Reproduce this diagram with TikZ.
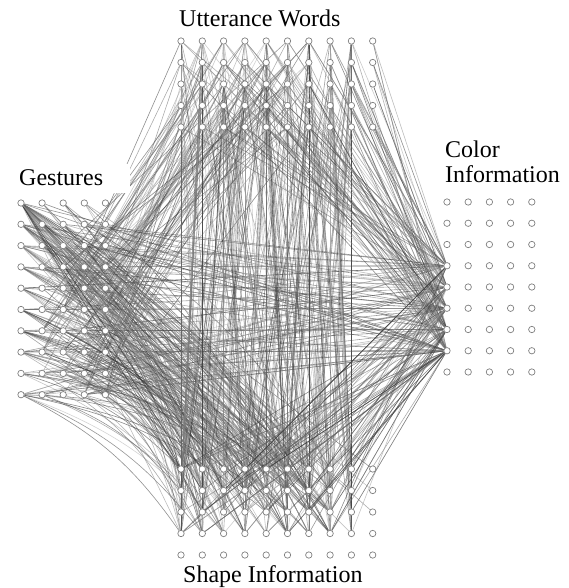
\documentclass[tikz,border=0pt]{standalone}
\usepackage{fontspec}
\setmainfont{Liberation Serif}
\pgfdeclarelayer{edges}
\pgfsetlayers{edges,main}
\tikzset{
  unit/.style={circle, draw=black!50, fill=white, line width=0.7pt,
               minimum size=6.4pt, inner sep=0pt},
  link/.style={line width=0.6pt, draw opacity=0.55},
  lbl/.style={font=\fontsize{24}{25}\selectfont, inner sep=0pt},
}
% one straight connection with a random grey tone
\newcommand{\drawwire}[2]{%
  \pgfmathrandominteger{\gtone}{30}{85}%
  \draw[link, draw=black!\gtone] (#1) -- (#2);}
% one slightly bowed connection with a random grey tone
\newcommand{\drawbow}[2]{%
  \pgfmathrandominteger{\gtone}{30}{85}%
  \draw[link, draw=black!\gtone] (#1) to[bend left=14] (#2);}
\begin{document}
\begin{tikzpicture}[x=1pt, y=-1pt]
\useasboundingbox (0,0) rectangle (568,588);
\pgfmathsetseed{4711}

% ---- unit grids ----
\foreach \i in {0,...,9}{\foreach \j in {0,...,4}{
  \node[unit] (u-\i-\j) at ({181+21.3*\i},{41+21.5*\j}) {};
  \node[unit] (s-\i-\j) at ({181+21.3*\i},{469+21.5*\j}) {};
}}
\foreach \i in {0,...,4}{\foreach \j in {0,...,9}{
  \node[unit] (g-\i-\j) at ({21+21.1*\i},{203+21.3*\j}) {};
}}
\foreach \i in {0,...,4}{\foreach \j in {0,...,8}{
  \node[unit] (c-\i-\j) at ({447+21.2*\i},{202+21.25*\j}) {};
}}

% ---- labels ----
\node[lbl, anchor=base west] (tu) at (179,27) {Utterance Words};
\node[lbl, anchor=base west, fill=white, text width=102pt, inner xsep=9pt,
      inner ysep=3pt, text height=18pt, text depth=5pt] (tg) at (10,185) {Gestures};
\node[lbl, anchor=north west, align=left] (tc) at (445,141) {Color\\Information};
\node[lbl, anchor=base west] (ts) at (183,582) {Shape Information};

\begin{pgfonlayer}{edges}
% gestures -> utterance words (steep, from the lower gesture rows)
\foreach \k in {1,...,100}{
  \pgfmathrandominteger{\a}{1}{4}
  \pgfmathrandominteger{\b}{3}{9}
  \pgfmathrandominteger{\c}{0}{6}\pgfmathrandominteger{\d}{0}{4}
  \drawwire{g-\a-\b}{u-\c-\d}}
% gestures -> colour
\foreach \k in {1,...,90}{
  \pgfmathrandominteger{\r}{0}{5}\pgfmathtruncatemacro{\a}{max(0,\r-2)}
  \pgfmathrandominteger{\b}{0}{9}
  \pgfmathrandominteger{\d}{3}{7}
  \drawwire{g-\a-\b}{c-0-\d}}
% gestures -> shape
\foreach \k in {1,...,210}{
  \pgfmathrandominteger{\r}{0}{5}\pgfmathtruncatemacro{\a}{max(0,\r-2)}
  \pgfmathrandominteger{\b}{0}{9}
  \pgfmathrandominteger{\c}{0}{7}\pgfmathrandominteger{\d}{0}{3}
  \drawbow{g-\a-\b}{s-\c-\d}}
% the first gesture unit fans out strongly
\foreach \k in {1,...,25}{
  \pgfmathrandominteger{\c}{0}{9}\pgfmathrandominteger{\d}{0}{3}
  \drawwire{g-0-0}{s-\c-\d}}
% utterance words -> shape, mostly steep
\foreach \k in {1,...,190}{
  \pgfmathrandominteger{\a}{0}{8}\pgfmathrandominteger{\b}{0}{4}
  \pgfmathrandominteger{\r}{-3}{3}
  \pgfmathtruncatemacro{\c}{max(0,min(8,\a+\r))}
  \pgfmathrandominteger{\d}{0}{3}
  \drawwire{u-\a-\b}{s-\c-\d}}
% utterance words -> shape, long diagonals
\foreach \k in {1,...,40}{
  \pgfmathrandominteger{\a}{0}{8}\pgfmathrandominteger{\b}{0}{4}
  \pgfmathrandominteger{\c}{0}{7}\pgfmathrandominteger{\d}{0}{3}
  \drawwire{u-\a-\b}{s-\c-\d}}
% utterance words -> colour
\foreach \k in {1,...,100}{
  \pgfmathrandominteger{\a}{0}{9}\pgfmathrandominteger{\b}{0}{4}
  \pgfmathrandominteger{\d}{3}{7}
  \drawwire{u-\a-\b}{c-0-\d}}
% shape -> colour
\foreach \k in {1,...,90}{
  \pgfmathrandominteger{\a}{0}{8}\pgfmathrandominteger{\b}{0}{3}
  \pgfmathrandominteger{\d}{3}{7}
  \drawwire{s-\a-\b}{c-0-\d}}
\end{pgfonlayer}
\end{tikzpicture}
\end{document}
